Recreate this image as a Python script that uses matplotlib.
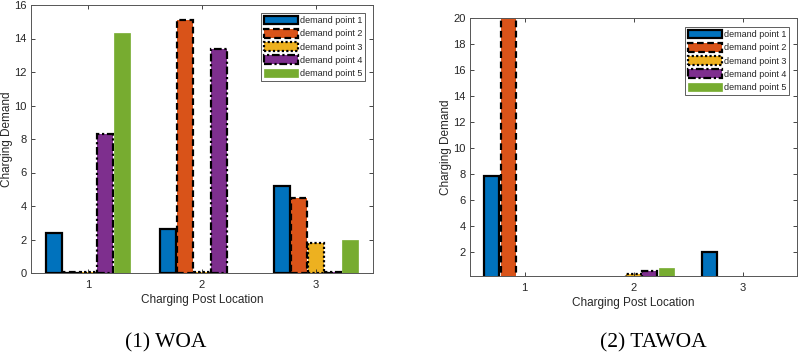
import matplotlib
matplotlib.use("Agg")
import matplotlib.pyplot as plt
import numpy as np

plt.rcParams['font.family'] = ['Liberation Sans', 'DejaVu Sans']

locations = [1, 2, 3]
series_labels = ["demand point 1", "demand point 2", "demand point 3",
                 "demand point 4", "demand point 5"]

# WOA (left) values per demand point, at locations 1..3
woa_dp1 = [2.4, 2.6, 5.2]
woa_dp2 = [0.05, 15.1, 4.5]
woa_dp3 = [0.05, 0.05, 1.8]
woa_dp4 = [8.3, 13.4, 0.05]
woa_dp5 = [14.3, 0.0, 1.95]

# TAWOA (right) values
tawoa_dp1 = [7.9, 0.0, 2.0]
tawoa_dp2 = [20.5, 0.0, 0.0]
tawoa_dp3 = [0.0, 0.35, 0.0]
tawoa_dp4 = [0.0, 0.55, 0.0]
tawoa_dp5 = [0.0, 0.8, 0.0]

x_label = "Charging Post Location"
y_label = "Charging Demand"
captions = ["(1) WOA", "(2) TAWOA"]

colors = ['#0072BD', '#D95319', '#EDB120', '#7E2F8E', '#77AC30']
edge_styles = ['-', (0, (3.0, 1.6)), (0, (1.0, 1.0)), (0, (3.5, 1.2, 1.0, 1.2)), None]
text_c = '#262626'

fig = plt.figure(figsize=(8.0, 3.57), dpi=100)

def draw(ax, data, ylim, yticks, leg_anchor):
    n = len(data)
    width = 0.14
    step = 0.15
    for i, vals in enumerate(data):
        xs = np.array(locations) + (i - (n - 1) / 2) * step
        if edge_styles[i] is None:
            ax.bar(xs, vals, width=width, color=colors[i], edgecolor=colors[i],
                   linewidth=0.5, label=series_labels[i])
        else:
            ax.bar(xs, vals, width=width, color=colors[i], edgecolor='black',
                   linewidth=1.6, linestyle=edge_styles[i], label=series_labels[i])
    ax.set_xlim(0.5, 3.5)
    ax.set_ylim(*ylim)
    ax.set_xticks(locations)
    ax.set_yticks(yticks)
    ax.tick_params(direction='in', length=3, width=0.6, colors=text_c,
                   labelsize=8, top=True, right=True)
    ax.tick_params(axis='x', pad=5)
    ax.tick_params(axis='y', pad=3)
    for s in ax.spines.values():
        s.set_color('#555555')
        s.set_linewidth(0.7)
    ax.set_xlabel(x_label, fontsize=8.5, color=text_c, labelpad=3)
    ax.set_ylabel(y_label, fontsize=8.5, color=text_c, labelpad=1)
    leg = ax.legend(loc='upper right', bbox_to_anchor=leg_anchor, borderaxespad=0,
                    fontsize=6.5, handlelength=3.8, handleheight=1.1,
                    labelspacing=0.42, handletextpad=0.2, borderpad=0.3,
                    fancybox=False, edgecolor='#444444', framealpha=1)
    leg.get_frame().set_linewidth(0.6)
    for t in leg.get_texts():
        t.set_color(text_c)

ax1 = fig.add_axes([31/800, 1 - 273/357, 342/800, 268/357])
draw(ax1, [woa_dp1, woa_dp2, woa_dp3, woa_dp4, woa_dp5], (0, 16),
     np.arange(0, 17, 2), (0.977, 0.970))

ax2 = fig.add_axes([470/800, 1 - 276/357, 327/800, 258/357])
draw(ax2, [tawoa_dp1, tawoa_dp2, tawoa_dp3, tawoa_dp4, tawoa_dp5], (0.18, 20),
     np.arange(2, 21, 2), (0.976, 0.965))

fig.text(166/800, 1 - 343/357, captions[0], family='Liberation Serif',
         fontsize=15.5, ha='center', va='center', color='black')
fig.text(653/800, 1 - 343/357, captions[1], family='Liberation Serif',
         fontsize=15.5, ha='center', va='center', color='black')

fig.savefig('out.png', dpi=100)
